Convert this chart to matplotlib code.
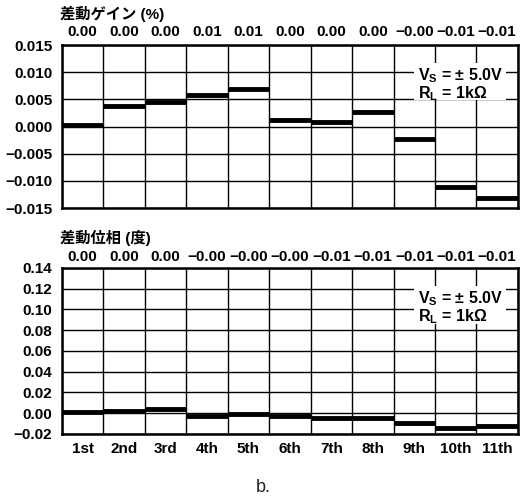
import numpy as np
import matplotlib
matplotlib.use("Agg")
import matplotlib.pyplot as plt
from matplotlib.patches import Rectangle

plt.rcParams['font.family'] = ['Liberation Sans', 'Noto Sans CJK JP']
plt.rcParams['font.weight'] = 'bold'
plt.rcParams['mathtext.fontset'] = 'custom'
plt.rcParams['mathtext.rm'] = 'Liberation Sans:bold'
plt.rcParams['mathtext.bf'] = 'Liberation Sans:bold'
plt.rcParams['mathtext.it'] = 'Liberation Sans:bold'

# Données
harmoniques = ['1st', '2nd', '3rd', '4th', '5th', '6th', '7th', '8th', '9th', '10th', '11th']

gain = [0.0002, 0.0038, 0.0046, 0.0059, 0.0069, 0.0012, 0.0008, 0.0026,
        -0.0023, -0.0111, -0.0131]
gain_labels = ['0.00', '0.00', '0.00', '0.01', '0.01', '0.00', '0.00', '0.00',
               '\u22120.00', '\u22120.01', '\u22120.01']
gain_ticks = [-0.015, -0.010, -0.005, 0.000, 0.005, 0.010, 0.015]

phase = [0.0015, 0.002, 0.004, -0.003, -0.0005, -0.003, -0.005, -0.005,
         -0.009, -0.0145, -0.0125]
phase_labels = ['0.00', '0.00', '0.00', '\u22120.00', '\u22120.00', '\u22120.00',
                '\u22120.01', '\u22120.01', '\u22120.01', '\u22120.01', '\u22120.01']
phase_ticks = [-0.02, 0.00, 0.02, 0.04, 0.06, 0.08, 0.10, 0.12, 0.14]

FS = 11


def panneau(ax, valeurs, etiquettes, yticks, fmt, label_y, show_x):
    n = len(valeurs)
    x = np.arange(n)
    ax.set_xlim(0, n)
    ax.set_ylim(yticks[0], yticks[-1])
    ax.set_xticks(np.arange(n + 1))
    ax.set_xticklabels([])
    ax.set_yticks(yticks)
    ax.set_yticklabels([fmt.format(v).replace('-', '\u2212') for v in yticks], fontsize=FS)
    ax.tick_params(axis='both', length=0, pad=7)
    ax.grid(True, color='black', linewidth=1.0)
    ax.set_axisbelow(True)
    for s in ax.spines.values():
        s.set_linewidth(1.8)
    ax.hlines(valeurs, x, x + 1, color='black', linewidth=3.5, zorder=3)
    for i, t in enumerate(etiquettes):
        ax.text(i + 0.5, label_y, t, transform=ax.get_xaxis_transform(),
                ha='center', va='center', fontsize=FS)
    if show_x:
        ax.set_xticks(x + 0.5, minor=True)
        ax.set_xticklabels(harmoniques, minor=True, fontsize=FS)
        ax.tick_params(axis='x', which='minor', length=0, pad=6)
    # encart conditions
    ax.add_patch(Rectangle((0.772, 0.66), 0.203, 0.23, transform=ax.transAxes,
                           facecolor='white', edgecolor='none', zorder=2))
    ax.text(0.78, 0.815, 'V$_\\mathregular{S}$ = \u00b1 5.0V', transform=ax.transAxes,
            ha='left', va='center', fontsize=11.5, zorder=4)
    ax.text(0.78, 0.705, 'R$_\\mathregular{L}$ = 1k\u03a9', transform=ax.transAxes,
            ha='left', va='center', fontsize=11.5, zorder=4)


fig = plt.figure(figsize=(5.27, 4.99), dpi=100)
ax1 = fig.add_axes([0.1176, 0.583, 0.865, 0.3267])
ax2 = fig.add_axes([0.1176, 0.1303, 0.865, 0.3327])

panneau(ax1, gain, gain_labels, gain_ticks, '{:.3f}', 1.08, False)
panneau(ax2, phase, phase_labels, phase_ticks, '{:.2f}', 1.066, True)

fig.text(60 / 527, 1 - 14 / 499, '差動ゲイン (%)', ha='left', va='center', fontsize=11)
fig.text(60 / 527, 1 - 238 / 499, '差動位相 (度)', ha='left', va='center', fontsize=11)
fig.text(263 / 527, 1 - 487 / 499, 'b.', ha='center', va='center', fontsize=13,
         fontweight='normal', color='#222222')

fig.savefig('out.png', dpi=100)
